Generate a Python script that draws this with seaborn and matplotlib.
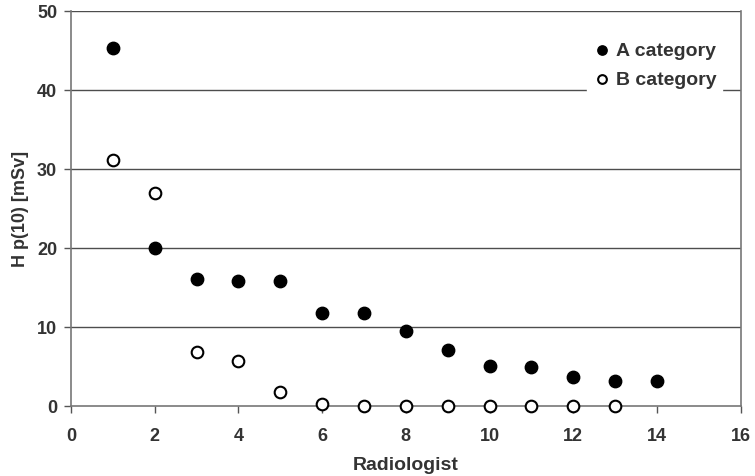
import pandas as pd
import seaborn as sns
import matplotlib.pyplot as plt

# data
radiologist_a = [1, 2, 3, 4, 5, 6, 7, 8, 9, 10, 11, 12, 13, 14]
dose_a = [45.3, 20.0, 16.0, 15.8, 15.8, 11.7, 11.7, 9.5, 7.1, 5.0, 4.9, 3.6, 3.1, 3.1]
radiologist_b = [1, 2, 3, 4, 5, 6, 7, 8, 9, 10, 11, 12, 13]
dose_b = [31.1, 26.9, 6.8, 5.7, 1.7, 0.3, 0.0, 0.0, 0.0, 0.0, 0.0, 0.0, 0.0]

df_a = pd.DataFrame({"Radiologist": radiologist_a, "dose": dose_a})
df_b = pd.DataFrame({"Radiologist": radiologist_b, "dose": dose_b})

sns.set_style("white")
plt.rcParams["font.family"] = ["Liberation Sans", "DejaVu Sans"]
plt.rcParams["font.weight"] = "bold"

fig = plt.figure(figsize=(7.55, 4.77), dpi=100)
ax = fig.add_axes([0.094, 0.147, 0.887, 0.828])

# gridlines
for v in [10, 20, 30, 40, 50]:
    ax.axhline(v, color="#4d4d4d", lw=1.0, zorder=0)

sns.scatterplot(data=df_a, x="Radiologist", y="dose", ax=ax, color="black",
                s=80, edgecolor="black", linewidth=1.0, label="A category",
                zorder=3, clip_on=False)
sns.scatterplot(data=df_b, x="Radiologist", y="dose", ax=ax, facecolor="white",
                s=70, edgecolor="black", linewidth=1.5, label="B category",
                zorder=3, clip_on=False)

ax.set_xlim(0, 16)
ax.set_ylim(0, 50)
ax.set_xticks(range(0, 17, 2))
ax.set_yticks(range(0, 51, 10))
ax.tick_params(axis="both", labelsize=13, length=5, width=1.0, color="#555555",
               direction="out", bottom=True, left=True)
ax.tick_params(axis="x", pad=10)
ax.tick_params(axis="y", pad=5)
for lab in ax.get_xticklabels() + ax.get_yticklabels():
    lab.set_fontweight("bold")
    lab.set_color("#333333")

for side in ["left", "right", "bottom"]:
    ax.spines[side].set_color("#777777")
    ax.spines[side].set_linewidth(1.2)
ax.spines["top"].set_visible(False)

ax.set_xlabel("Radiologist", fontsize=14, fontweight="bold", color="#333333", labelpad=9)
ax.set_ylabel("H p(10) [mSv]", fontsize=13, fontweight="bold", color="#333333", labelpad=6)

leg = ax.legend(loc="upper right", bbox_to_anchor=(0.987, 0.963), frameon=True,
                facecolor="white", edgecolor="white", framealpha=1,
                fontsize=14, handletextpad=0.2, borderpad=0.3, labelspacing=0.6,
                handlelength=1.0, markerscale=0.75)
for t in leg.get_texts():
    t.set_fontweight("bold")
    t.set_color("#333333")

fig.savefig("out.png", dpi=100)
